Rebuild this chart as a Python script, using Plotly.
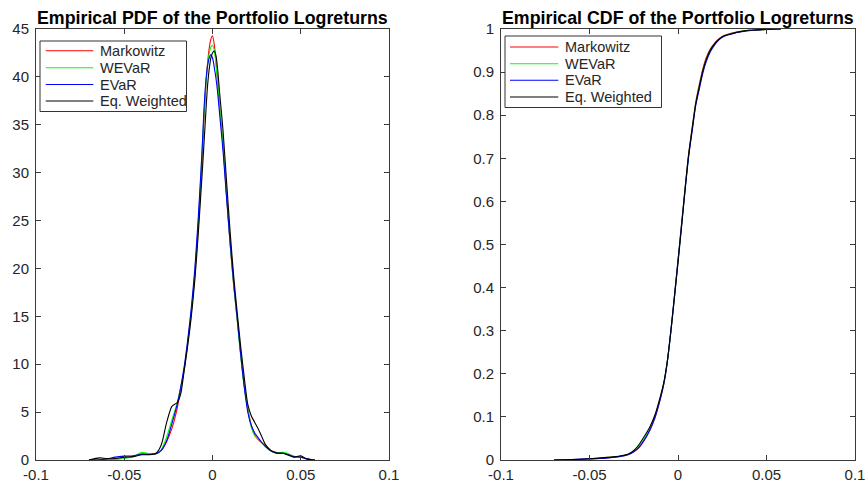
import plotly.graph_objects as go

# ---- data -------------------------------------------------------------
SERIES = ["Markowitz", "WEVaR", "EVaR", "Eq. Weighted"]
COLORS = ["#ff0000", "#00ff00", "#0000ff", "#000000"]

# kernel density estimates of the daily portfolio log-returns
PDF_X = [-0.070, -0.064, -0.060, -0.055, -0.050, -0.045, -0.040, -0.036, -0.032,
         -0.029, -0.026, -0.023, -0.020, -0.018, -0.016, -0.014, -0.012, -0.010,
         -0.008, -0.006, -0.005, -0.004, -0.003, -0.002, -0.001, 0.000, 0.001,
         0.002, 0.003, 0.004, 0.005, 0.006, 0.008, 0.010, 0.012, 0.014, 0.016,
         0.018, 0.020, 0.022, 0.024, 0.026, 0.028, 0.030, 0.033, 0.036, 0.040,
         0.043, 0.046, 0.050, 0.053, 0.056, 0.058]

PDF_MARKOWITZ = [0.0, 0.0, 0.02, 0.1, 0.25, 0.4, 0.65, 0.6, 0.65,
                 1.0, 1.9, 3.3, 5.4, 7.4, 9.4, 12.3, 15.4, 19.3,
                 24.5, 31.0, 35.0, 38.4, 41.0, 42.8, 43.9, 44.3, 43.4,
                 41.5, 39.2, 36.8, 34.8, 32.8, 27.5, 22.5, 18.2, 14.7, 11.0,
                 7.8, 5.4, 3.6, 2.6, 2.1, 1.8, 1.5, 1.0, 0.8, 0.75,
                 0.6, 0.4, 0.3, 0.15, 0.05, 0.0]

PDF_WEVAR = [0.0, 0.0, 0.02, 0.08, 0.15, 0.35, 0.8, 0.65, 0.65,
             1.1, 2.4, 4.2, 6.0, 7.6, 9.6, 12.4, 15.6, 19.6,
             25.0, 31.8, 35.5, 38.6, 40.8, 42.3, 43.1, 43.3, 42.8,
             41.3, 39.3, 37.0, 34.9, 32.8, 27.6, 22.6, 18.3, 14.6, 10.8,
             7.6, 5.2, 3.4, 2.5, 2.2, 1.8, 1.4, 0.95, 0.75, 0.8,
             0.65, 0.35, 0.3, 0.12, 0.04, 0.0]

PDF_EVAR = [0.0, 0.03, 0.1, 0.3, 0.4, 0.45, 0.6, 0.6, 0.65,
            1.0, 2.0, 3.8, 5.8, 7.6, 9.8, 12.6, 15.9, 20.0,
            25.5, 32.0, 36.0, 39.0, 40.9, 41.9, 42.3, 42.0, 41.0,
            39.8, 38.2, 36.2, 34.2, 32.2, 27.3, 22.7, 18.5, 14.8, 11.0,
            7.6, 5.0, 3.6, 2.8, 2.3, 1.8, 1.4, 0.95, 0.7, 0.7,
            0.55, 0.35, 0.3, 0.12, 0.04, 0.0]

PDF_EQW = [0.0, 0.22, 0.15, 0.15, 0.3, 0.35, 0.55, 0.55, 0.7,
           1.6, 3.9, 5.6, 6.0, 6.9, 9.4, 12.0, 15.0, 18.8,
           23.8, 29.5, 32.5, 35.6, 38.6, 40.6, 41.9, 42.5, 42.7,
           42.2, 40.6, 38.4, 36.4, 34.3, 29.0, 23.8, 19.2, 15.4, 11.8,
           8.6, 5.8, 4.6, 3.9, 3.2, 2.4, 1.6, 1.0, 0.75, 0.7,
           0.5, 0.3, 0.45, 0.15, 0.03, 0.0]

# empirical distribution functions of the same log-returns
CDF_X = [-0.070, -0.060, -0.050, -0.040, -0.032, -0.028, -0.025, -0.022, -0.019,
         -0.016, -0.013, -0.010, -0.008, -0.006, -0.004, -0.002, 0.000, 0.002,
         0.004, 0.006, 0.008, 0.010, 0.012, 0.014, 0.016, 0.018, 0.020, 0.023,
         0.026, 0.030, 0.035, 0.040, 0.045, 0.050, 0.055, 0.058]

CDF_MARKOWITZ = [0.0, 0.0, 0.002, 0.005, 0.009, 0.013, 0.019, 0.029, 0.046,
                 0.068, 0.098, 0.141, 0.176, 0.228, 0.298, 0.378, 0.462, 0.548,
                 0.632, 0.710, 0.771, 0.830, 0.871, 0.907, 0.934, 0.952, 0.964, 0.977,
                 0.985, 0.990, 0.994, 0.997, 0.998, 0.999, 1.0, 1.0]

CDF_WEVAR = [0.0, 0.0, 0.002, 0.006, 0.009, 0.013, 0.020, 0.032, 0.050,
             0.071, 0.101, 0.144, 0.178, 0.229, 0.299, 0.379, 0.461, 0.545,
             0.629, 0.706, 0.767, 0.826, 0.866, 0.902, 0.930, 0.949, 0.962, 0.976,
             0.984, 0.989, 0.994, 0.997, 0.998, 0.999, 1.0, 1.0]

CDF_EVAR = [0.0, 0.001, 0.003, 0.005, 0.009, 0.013, 0.019, 0.030, 0.047,
            0.069, 0.099, 0.142, 0.178, 0.230, 0.302, 0.382, 0.463, 0.545,
            0.626, 0.703, 0.763, 0.822, 0.860, 0.897, 0.925, 0.945, 0.959, 0.974,
            0.983, 0.988, 0.993, 0.996, 0.998, 0.999, 1.0, 1.0]

CDF_EQW = [0.0, 0.001, 0.003, 0.006, 0.010, 0.014, 0.022, 0.036, 0.055,
           0.076, 0.105, 0.147, 0.180, 0.230, 0.300, 0.378, 0.458, 0.540,
           0.628, 0.708, 0.768, 0.826, 0.866, 0.903, 0.930, 0.949, 0.962, 0.976,
           0.984, 0.989, 0.994, 0.997, 0.998, 0.999, 1.0, 1.0]

X_TICKS = [-0.1, -0.05, 0, 0.05, 0.1]
X_TICK_TEXT = ["-0.1", "-0.05", "0", "0.05", "0.1"]
PDF_Y_TICKS = [0, 5, 10, 15, 20, 25, 30, 35, 40, 45]
CDF_Y_TICKS = [0, 0.1, 0.2, 0.3, 0.4, 0.5, 0.6, 0.7, 0.8, 0.9, 1]
CDF_Y_TICK_TEXT = ["0", "0.1", "0.2", "0.3", "0.4", "0.5", "0.6", "0.7", "0.8", "0.9", "1"]

PDF_TITLE = "Empirical PDF of the Portfolio Logreturns"
CDF_TITLE = "Empirical CDF of the Portfolio Logreturns"

# ---- figure -------------------------------------------------------------
W, H = 865, 483
FONT = "Liberation Sans, Arial, Helvetica, sans-serif"
AXIS_COLOR = "#3a3a3a"


def px(x):
    return x / W


def py(y):
    return 1 - y / H


fig = go.Figure()

pdf_sets = [PDF_MARKOWITZ, PDF_WEVAR, PDF_EVAR, PDF_EQW]
cdf_sets = [CDF_MARKOWITZ, CDF_WEVAR, CDF_EVAR, CDF_EQW]

for name, color, ys in zip(SERIES, COLORS, pdf_sets):
    fig.add_trace(go.Scatter(x=PDF_X, y=ys, mode="lines", name=name,
                             line=dict(color=color, width=1.1, shape="spline", smoothing=0.7),
                             xaxis="x", yaxis="y", showlegend=False))

for name, color, ys in zip(SERIES, COLORS, cdf_sets):
    fig.add_trace(go.Scatter(x=CDF_X, y=ys, mode="lines", name=name,
                             line=dict(color=color, width=1.1, shape="spline", smoothing=0.7),
                             xaxis="x2", yaxis="y2", showlegend=False))

axis_common = dict(
    showline=True, linecolor=AXIS_COLOR, linewidth=1, mirror="ticks",
    ticks="inside", ticklen=5, tickwidth=1, tickcolor=AXIS_COLOR,
    showgrid=False, zeroline=False, automargin=False,
    ticklabeloverflow="allow",
    tickfont=dict(family=FONT, size=15, color="#262626"),
)

x_left = (36, 389)
x_right = (501, 855)
y_top, y_bot = 29, 460

fig.update_layout(
    template="none",
    width=W, height=H, autosize=False,
    margin=dict(l=0, r=0, t=0, b=0, pad=0),
    paper_bgcolor="white", plot_bgcolor="white",
    xaxis=dict(domain=[px(x_left[0]), px(x_left[1])], range=[-0.1, 0.1],
               tickvals=X_TICKS, ticktext=X_TICK_TEXT, anchor="y",
               ticklabelstandoff=1, **axis_common),
    yaxis=dict(domain=[py(y_bot), py(y_top)], range=[0, 45],
               tickvals=PDF_Y_TICKS, anchor="x", ticklabelstandoff=3, **axis_common),
    xaxis2=dict(domain=[px(x_right[0]), px(x_right[1])], range=[-0.1, 0.1],
                tickvals=X_TICKS, ticktext=X_TICK_TEXT, anchor="y2",
                ticklabelstandoff=1, **axis_common),
    yaxis2=dict(domain=[py(y_bot), py(y_top)], range=[0, 1],
                tickvals=CDF_Y_TICKS, ticktext=CDF_Y_TICK_TEXT, anchor="x2",
                ticklabelstandoff=3, **axis_common),
)

# titles
for text, cx in [(PDF_TITLE, sum(x_left) / 2), (CDF_TITLE, sum(x_right) / 2)]:
    fig.add_annotation(text=f"<b>{text}</b>", xref="paper", yref="paper",
                       x=px(cx), y=py(17.5), xanchor="center", yanchor="middle",
                       showarrow=False, font=dict(family=FONT, size=17.8, color="black"))

# legend boxes (one per panel)
legend_layouts = [
    # box (x0, y0, x1, y1), sample line x-range, text x, row centres
    ((40, 41, 186.5, 111.5), (45.7, 93.3), 98.3, [50.8, 67.7, 84.5, 101.0]),
    ((505, 36, 661.5, 107.5), (510, 558.3), 563.3, [47.0, 63.7, 80.3, 97.0]),
]
for (bx0, by0, bx1, by1), (lx0, lx1), tx, rows in legend_layouts:
    fig.add_shape(type="rect", xref="paper", yref="paper",
                  x0=px(bx0), x1=px(bx1), y0=py(by1), y1=py(by0),
                  line=dict(color="#333333", width=1), fillcolor="white", layer="above")
    for name, color, ry in zip(SERIES, COLORS, rows):
        fig.add_shape(type="line", xref="paper", yref="paper",
                      x0=px(lx0), x1=px(lx1), y0=py(ry), y1=py(ry),
                      line=dict(color=color, width=1.1), layer="above")
        fig.add_annotation(text=name, xref="paper", yref="paper",
                           x=px(tx), y=py(ry), xanchor="left", yanchor="middle",
                           showarrow=False,
                           font=dict(family=FONT, size=14.5, color="#262626"))

fig.write_html("out.html")
